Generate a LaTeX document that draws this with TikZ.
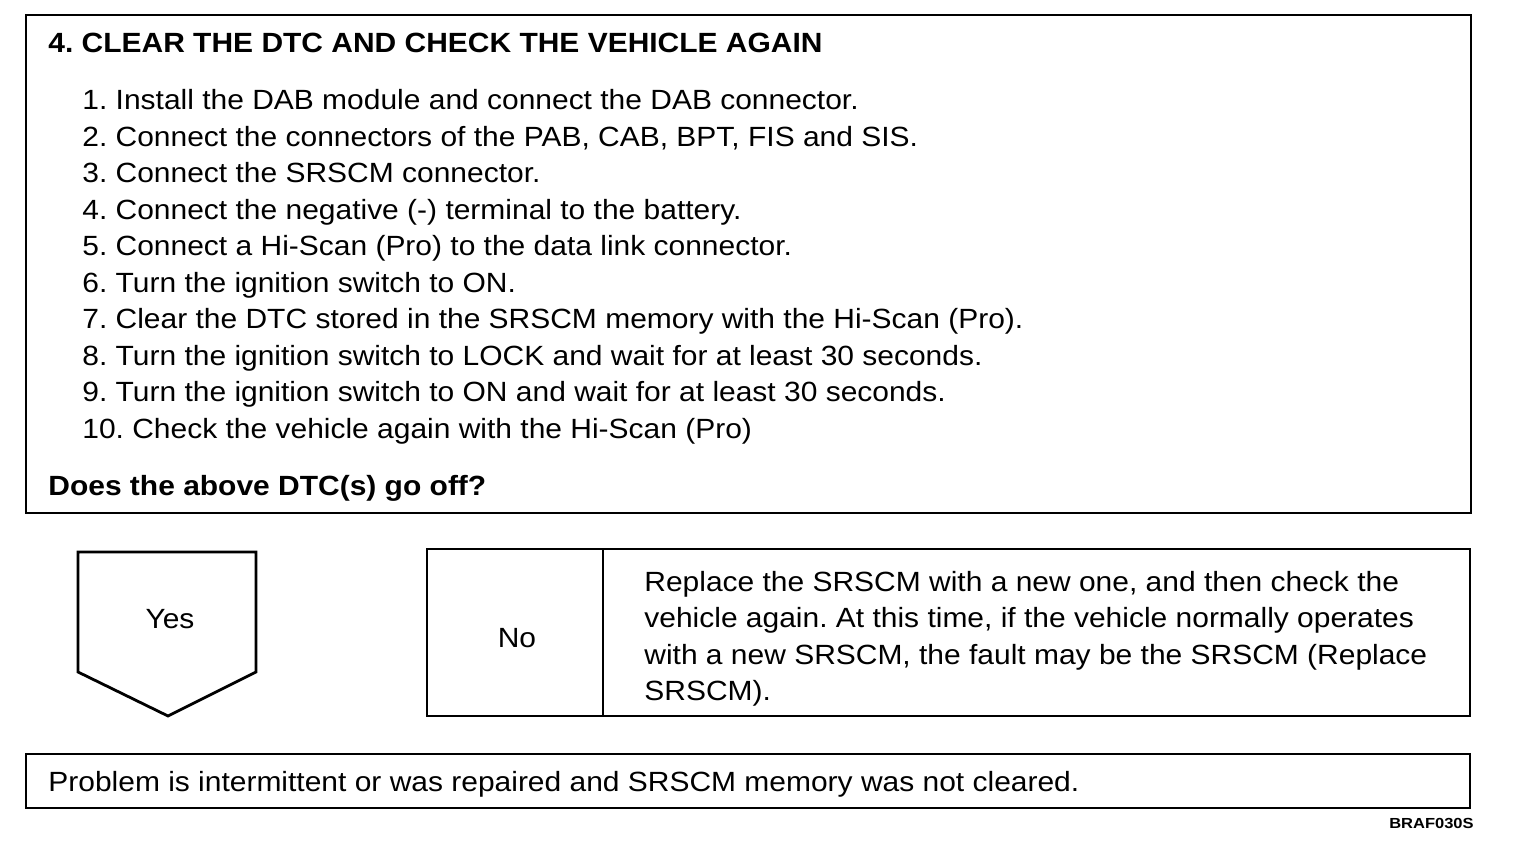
\documentclass[tikz,border=0pt]{standalone}
\usepackage{fontspec}
\setmainfont[FakeStretch=1.078]{Liberation Sans}
\newfontfamily\codefont[FakeStretch=1.13]{Liberation Sans}
\frenchspacing
\begin{document}
\begin{tikzpicture}[x=0.5pt,y=-0.5pt,
  box/.style={draw, line width=1.4pt, line join=miter},
  txt/.style={anchor=base west, inner sep=0pt, font=\fontsize{13.9}{18.25}\selectfont},
  btxt/.style={txt, font=\fontsize{13.9}{18.25}\selectfont\bfseries},
  ctxt/.style={anchor=base, inner sep=0pt, font=\fontsize{13.9}{18.25}\selectfont}]
\useasboundingbox (0,0) rectangle (1520,860);
% main box
\draw[box] (26,15) rectangle (1471,513);
\node[btxt] (title) at (48,53) {4. CLEAR THE DTC AND CHECK THE VEHICLE AGAIN};
\node[txt] (s1) at (82,110) {1. Install the DAB module and connect the DAB connector.};
\node[txt] (s2) at (82,146.5) {2. Connect the connectors of the PAB, CAB, BPT, FIS and SIS.};
\node[txt] (s3) at (82,183) {3. Connect the SRSCM connector.};
\node[txt] (s4) at (82,219.5) {4. Connect the negative (-) terminal to the battery.};
\node[txt] (s5) at (82,256) {5. Connect a Hi-Scan (Pro) to the data link connector.};
\node[txt] (s6) at (82,292.5) {6. Turn the ignition switch to ON.};
\node[txt] (s7) at (82,329) {7. Clear the DTC stored in the SRSCM memory with the Hi-Scan (Pro).};
\node[txt] (s8) at (82,365.5) {8. Turn the ignition switch to LOCK and wait for at least 30 seconds.};
\node[txt] (s9) at (82,402) {9. Turn the ignition switch to ON and wait for at least 30 seconds.};
\node[txt] (s10) at (82,438.5) {10. Check the vehicle again with the Hi-Scan (Pro)};
\node[btxt] (q) at (48,496) {Does the above DTC(s) go off?};
% Yes pentagon
\draw[box] (78,552) -- (256,552) -- (256,672) -- (168,716) -- (78,672) -- cycle;
\node[ctxt] (yes) at (170,628) {Yes};
% No box
\draw[box] (427,549) rectangle (1470,716);
\draw[box] (603,549) -- (603,716);
\node[ctxt] (no) at (517,647) {No};
\node[txt] (r1) at (644,591) {Replace the SRSCM with a new one, and then check the};
\node[txt] (r2) at (644,627.5) {vehicle again. At this time, if the vehicle normally operates};
\node[txt] (r3) at (644,664) {with a new SRSCM, the fault may be the SRSCM (Replace};
\node[txt] (r4) at (644,700.5) {SRSCM).};
% bottom box
\draw[box] (26,754) rectangle (1470,808);
\node[txt] (p) at (48,791) {Problem is intermittent or was repaired and SRSCM memory was not cleared.};
\node[anchor=base east, inner sep=0pt, font=\codefont\fontsize{7.3}{8}\selectfont\bfseries] (code) at (1474,828) {BRAF030S};
\end{tikzpicture}
\end{document}
